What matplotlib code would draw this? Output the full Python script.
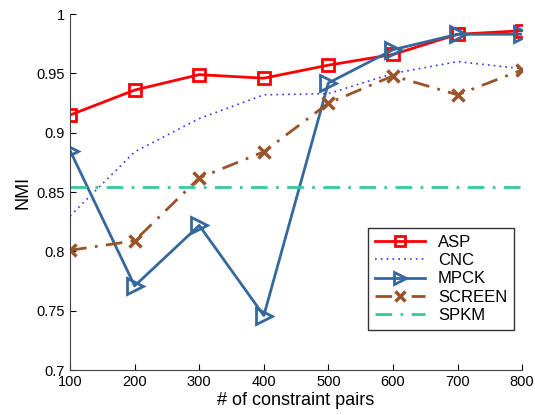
import matplotlib
matplotlib.use("Agg")
import matplotlib.pyplot as plt

x = [100, 200, 300, 400, 500, 600, 700, 800]
asp = [0.915, 0.936, 0.949, 0.946, 0.957, 0.966, 0.983, 0.986]
cnc = [0.830, 0.884, 0.912, 0.932, 0.933, 0.950, 0.960, 0.954]
mpck = [0.885, 0.771, 0.822, 0.746, 0.942, 0.970, 0.983, 0.983]
screen = [0.801, 0.809, 0.862, 0.884, 0.925, 0.948, 0.932, 0.953]
spkm = [0.854] * 8

plt.rcParams['font.family'] = ['Liberation Sans', 'DejaVu Sans']
fig = plt.figure(figsize=(5.35, 4.15), dpi=100)
ax = fig.add_axes([0.131, 0.108, 0.845, 0.858])

ax.plot(x, asp, color='#ff0000', lw=2, marker='s', ms=8, mfc='none', mew=2, label='ASP')
ax.plot(x, cnc, color='#3333ff', lw=1.2, ls=(0, (1, 2.5)), label='CNC')
ax.plot(x, mpck, color='#35689c', lw=2, marker='>', ms=11, mfc='none', mew=2, label='MPCK')
ax.plot(x, screen, color='#99542a', lw=2, ls=(0, (6, 3, 1, 3)), marker='x', ms=8, mew=2.5, label='SCREEN')
ax.plot(x, spkm, color='#33cc99', lw=2, ls=(0, (6, 3, 1, 3)), label='SPKM')

ax.set_xlim(100, 800)
ax.set_ylim(0.7, 1.0)
ax.set_xticks(x)
ax.set_yticks([0.7, 0.75, 0.8, 0.85, 0.9, 0.95, 1.0])
ax.set_yticklabels(['0.7', '0.75', '0.8', '0.85', '0.9', '0.95', '1'])
ax.tick_params(direction='in', labelsize=10.5, length=4, width=0.8)
ax.spines['top'].set_visible(False)
ax.spines['right'].set_visible(False)
for s in ('left', 'bottom'):
    ax.spines[s].set_color('#444444')
ax.set_xlabel('# of constraint pairs', fontsize=13, labelpad=2)
ax.set_ylabel('NMI', fontsize=13)

leg = ax.legend(loc='lower right', bbox_to_anchor=(1.0, 0.09), fontsize=12, frameon=True,
                fancybox=False, edgecolor='black', handlelength=3, borderpad=0.4, labelspacing=0.2,
                markerscale=0.85)
leg.get_frame().set_linewidth(1)

fig.savefig('out.png', dpi=100)
